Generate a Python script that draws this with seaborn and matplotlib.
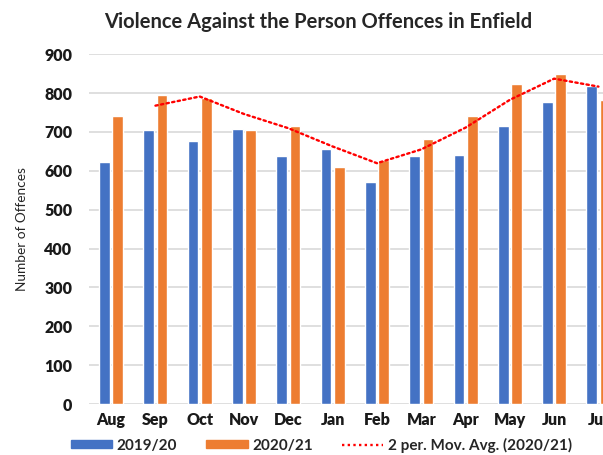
import numpy as np
import pandas as pd
import matplotlib
matplotlib.use("Agg")
import matplotlib.pyplot as plt
import seaborn as sns

# Values
months = ["Aug", "Sep", "Oct", "Nov", "Dec", "Jan", "Feb", "Mar", "Apr", "May", "Jun", "Jul"]
offences_1920 = [622, 706, 676, 708, 638, 657, 572, 638, 641, 715, 776, 817]
offences_2021 = [741, 794, 788, 704, 715, 610, 629, 681, 741, 824, 850, 783]
series_names = ["2019/20", "2020/21"]
colors = ["#4472C4", "#ED7D31"]
yticks = [0, 100, 200, 300, 400, 500, 600, 700, 800, 900]

df = pd.DataFrame({
    "Month": months * 2,
    "Offences": offences_1920 + offences_2021,
    "Year": [series_names[0]] * len(months) + [series_names[1]] * len(months),
})

# 2 period moving average of 2020/21
mov_avg = pd.Series(offences_2021).rolling(2).mean()

sns.set_style("white")
plt.rcParams["font.family"] = ["Lato", "DejaVu Sans"]

fig = plt.figure(figsize=(6.03, 4.55), dpi=100)
ax = fig.add_axes([0.1476, 0.112, 0.8816, 0.769])

sns.barplot(data=df, x="Month", y="Offences", hue="Year", order=months,
            palette=colors, width=0.6, gap=0.2, ax=ax, legend=False,
            saturation=1)

dots = (0, (1, 1.4))
ax.plot(np.arange(len(months)), mov_avg, color="red", linestyle=dots,
        linewidth=1.7, dash_capstyle="round", zorder=5)

ax.set_ylim(0, 900)
ax.set_xlim(-0.5, len(months) - 0.5)
ax.set_yticks(yticks)
ax.yaxis.grid(True, color="#D9D9D9", linewidth=1.2)
ax.set_axisbelow(True)
for s in ax.spines.values():
    s.set_visible(False)
ax.tick_params(axis="both", length=0, labelsize=11.5, pad=6)
for lab in ax.get_xticklabels() + ax.get_yticklabels():
    lab.set_fontweight("heavy")
    lab.set_color("#1a1a1a")
ax.tick_params(axis="y", pad=12)
ax.set_xlabel("")
ax.set_ylabel("Number of Offences", fontsize=9.8, labelpad=12)

fig.text(0.528, 0.952, "Violence Against the Person Offences in Enfield",
         ha="center", va="center", fontsize=14.5, fontweight="bold")

handles = [
    plt.Rectangle((0, 0), 1, 1, color=colors[0]),
    plt.Rectangle((0, 0), 1, 1, color=colors[1]),
    plt.Line2D([0], [0], color="red", linestyle=dots, linewidth=1.7),
]
labels = series_names + ["2 per. Mov. Avg. (2020/21)"]
leg = fig.legend(handles, labels, loc="center", bbox_to_anchor=(0.533, 0.022),
                 ncol=3, frameon=False, handlelength=2.7, handleheight=0.5,
                 columnspacing=1.9, handletextpad=0.3,
                 prop={"weight": "bold", "size": 11})

fig.savefig("out.png", dpi=100)
